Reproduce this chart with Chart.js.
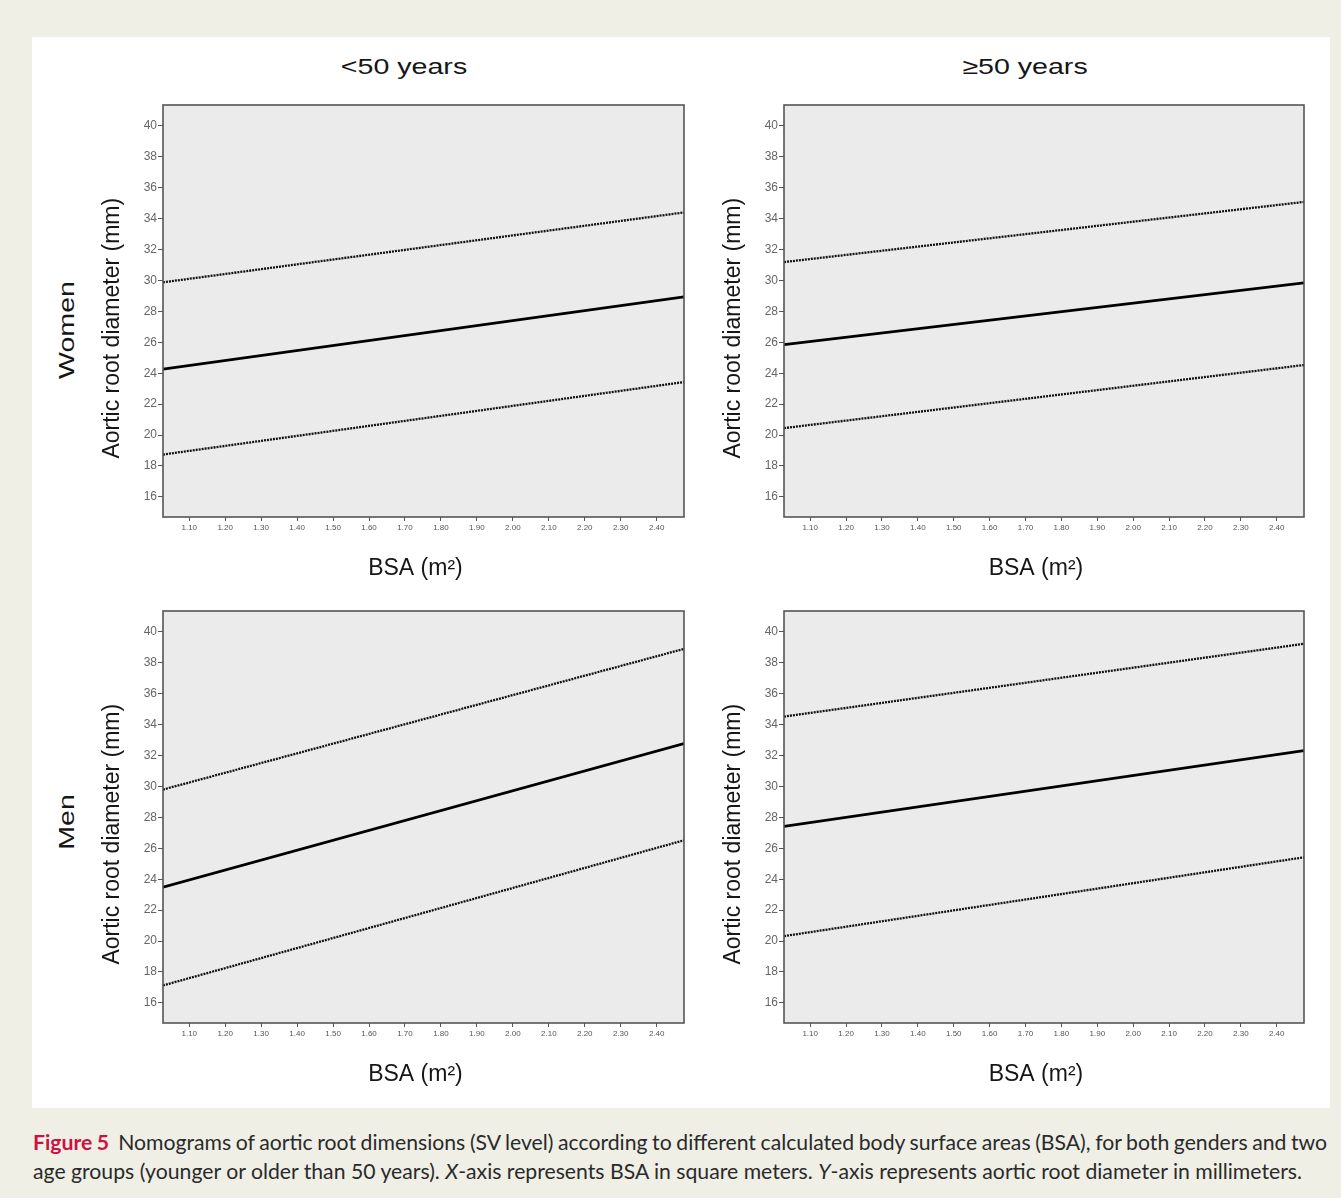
<!DOCTYPE html>
<html>
<head>
<meta charset="utf-8">
<script src="https://cdn.jsdelivr.net/npm/chart.js@4.4.1/dist/chart.umd.min.js"></script>
<style>
  html, body { margin: 0; padding: 0; background: #EFEFE6; }
  #page { position: relative; width: 1341px; height: 1198px; overflow: hidden; background: #EFEFE6; }
  #sheet { position: absolute; left: 32px; top: 37px; width: 1298px; height: 1071px; background: #ffffff; }
  canvas.panel { position: absolute; }
  .head { position: absolute; font-family: "Liberation Sans", Arial, sans-serif; font-size: 22px; color: #161616;
          white-space: nowrap; transform: translate(-50%, -50%) scaleX(1.3); }
  .row { position: absolute; font-family: "Liberation Sans", Arial, sans-serif; font-size: 22.5px; color: #161616;
         white-space: nowrap; transform: translate(-50%, -50%) rotate(-90deg) scaleX(1.27); }
  .cap { position: absolute; left: 33px; font-family: Lato, "Open Sans", sans-serif; color: #2a2a2a;
         white-space: nowrap; line-height: 1; }
  .cap b { color: #CE1141; font-weight: 700; }
</style>
</head>
<body>
<div id="page">
  <div id="sheet"></div>

  <div class="head" style="left:404px; top:67px;">&lt;50 years</div>
  <div class="head" style="left:1025px; top:67px;">≥50 years</div>
  <div class="row" style="left:67px; top:330px;">Women</div>
  <div class="row" style="left:67px; top:822px;">Men</div>

  <canvas id="womenYoung" class="panel" width="620" height="500" style="left:95px; top:95px;"></canvas>
  <canvas id="womenOld" class="panel" width="620" height="500" style="left:716px; top:95px;"></canvas>
  <canvas id="menYoung" class="panel" width="620" height="500" style="left:95px; top:601px;"></canvas>
  <canvas id="menOld" class="panel" width="620" height="500" style="left:716px; top:601px;"></canvas>

  <div id="cap1" class="cap" style="top:1132px;"><b>Figure 5</b>&nbsp; Nomograms of aortic root dimensions (SV level) according to different calculated body surface areas (BSA), for both genders and two</div>
  <div id="cap2" class="cap" style="top:1161px;">age groups (younger or older than 50 years). <i>X</i>-axis represents BSA in square meters. <i>Y</i>-axis represents aortic root diameter in millimeters.</div>
</div>

<script>
// BSA (m²) at the two ends of each fitted line
const bsaEnds = [1.027, 2.476];

// Tick values
const bsaTicks = [1.10, 1.20, 1.30, 1.40, 1.50, 1.60, 1.70, 1.80, 1.90, 2.00, 2.10, 2.20, 2.30, 2.40];
const diameterTicks = [16, 18, 20, 22, 24, 26, 28, 30, 32, 34, 36, 38, 40];
const diameterMin = 14.7;
const diameterMax = 41.35;

// Aortic root diameter (mm) at the two BSA ends: upper limit, mean, lower limit
const womenYoungUpper = [29.88, 34.40];
const womenYoungMean  = [24.27, 28.94];
const womenYoungLower = [18.74, 23.43];

const womenOldUpper = [31.19, 35.08];
const womenOldMean  = [25.85, 29.84];
const womenOldLower = [20.45, 24.53];

const menYoungUpper = [29.80, 38.90];
const menYoungMean  = [23.48, 32.77];
const menYoungLower = [17.13, 26.52];

const menOldUpper = [34.52, 39.23];
const menOldMean  = [27.42, 32.32];
const menOldLower = [20.32, 25.42];

const FONT = '"Liberation Sans", Arial, sans-serif';
const AXIS = '#555555';

// Grey plotting field with a dark frame round it
const plotFrame = {
  id: 'plotFrame',
  beforeDraw(chart) {
    const { ctx, chartArea: a } = chart;
    ctx.save();
    ctx.fillStyle = '#EBEBEB';
    ctx.fillRect(a.left, a.top, a.right - a.left, a.bottom - a.top);
    ctx.restore();
  },
  afterDatasetsDraw(chart) {
    const { ctx, chartArea: a } = chart;
    ctx.save();
    ctx.strokeStyle = AXIS;
    ctx.lineWidth = 1.6;
    ctx.strokeRect(a.left, a.top, a.right - a.left, a.bottom - a.top);
    ctx.restore();
  }
};

function toPoints(values) {
  return bsaEnds.map((x, i) => ({ x: x, y: values[i] }));
}

function makePanel(id, upper, mean, lower, rightPad) {
  const dotted = { borderColor: '#111', borderWidth: 2.3, borderDash: [2, 1], pointRadius: 0, fill: false };
  return new Chart(document.getElementById(id), {
    type: 'line',
    data: {
      datasets: [
        Object.assign({ data: toPoints(upper) }, dotted),
        Object.assign({ data: toPoints(lower) }, dotted),
        { data: toPoints(mean), borderColor: '#000', borderWidth: 2.8, pointRadius: 0, fill: false }
      ]
    },
    options: {
      responsive: false,
      animation: false,
      devicePixelRatio: 1,
      layout: { padding: { top: 10, right: rightPad, bottom: 0, left: 0 } },
      plugins: { legend: { display: false }, tooltip: { enabled: false } },
      scales: {
        x: {
          type: 'linear',
          min: bsaEnds[0],
          max: bsaEnds[1],
          afterBuildTicks: s => { s.ticks = bsaTicks.map(v => ({ value: v })); },
          afterFit: s => { s.height = 78; },
          ticks: {
            callback: v => Number(v).toFixed(2),
            font: { family: FONT, size: 8 },
            color: '#555',
            padding: 2,
            maxRotation: 0,
            autoSkip: false
          },
          grid: { drawOnChartArea: false, drawTicks: true, tickLength: 4, color: AXIS, lineWidth: 1 },
          border: { display: false },
          title: {
            display: true,
            // trailing spacing nudges the label slightly left of the scale centre
            text: 'BSA (m²)\u2002\u2009',
            font: { family: FONT, size: 23 },
            color: '#161616',
            padding: { top: 0, bottom: 13 }
          }
        },
        y: {
          type: 'linear',
          min: diameterMin,
          max: diameterMax,
          afterBuildTicks: s => { s.ticks = diameterTicks.map(v => ({ value: v })); },
          afterFit: s => { s.width = 68; },
          ticks: {
            font: { family: FONT, size: 12 },
            color: '#666',
            padding: 1
          },
          grid: { drawOnChartArea: false, drawTicks: true, tickLength: 5, color: AXIS, lineWidth: 1 },
          border: { display: false },
          title: {
            display: true,
            // trailing spacing lowers the label a little below the scale centre
            text: 'Aortic root diameter (mm)\u2002\u2002\u2002',
            font: { family: FONT, size: 23 },
            color: '#161616',
            padding: { top: 4, bottom: 0 }
          }
        }
      }
    },
    plugins: [plotFrame]
  });
}

makePanel('womenYoung', womenYoungUpper, womenYoungMean, womenYoungLower, 31);
makePanel('womenOld', womenOldUpper, womenOldMean, womenOldLower, 32);
makePanel('menYoung', menYoungUpper, menYoungMean, menYoungLower, 31);
makePanel('menOld', menOldUpper, menOldMean, menOldLower, 32);

// Size the caption so the second line runs 1270px and spread the first line to 1295px
function fitCaption() {
  const c1 = document.getElementById('cap1');
  const c2 = document.getElementById('cap2');
  const base = 20;
  c1.style.fontSize = base + 'px';
  c2.style.fontSize = base + 'px';
  const w2 = c2.getBoundingClientRect().width;
  const fs = base * 1270 / w2;
  c1.style.fontSize = fs + 'px';
  c2.style.fontSize = fs + 'px';
  c1.style.wordSpacing = '0px';
  const w1 = c1.getBoundingClientRect().width;
  const gaps = (c1.textContent.match(/ /g) || []).length;
  if (gaps > 0) c1.style.wordSpacing = ((1295 - w1) / gaps) + 'px';
}
fitCaption();
if (document.fonts && document.fonts.ready) document.fonts.ready.then(fitCaption);
</script>
</body>
</html>
